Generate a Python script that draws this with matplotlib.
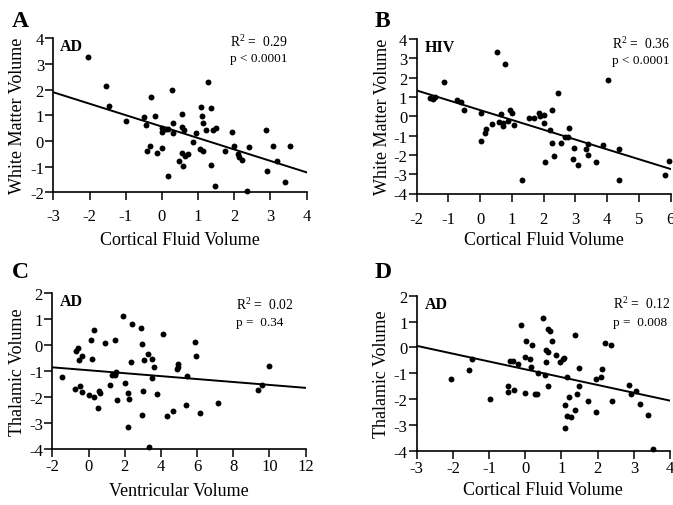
import matplotlib
matplotlib.use("Agg")
import matplotlib.pyplot as plt
import numpy as np

plt.rcParams['font.family'] = ['Liberation Serif', 'DejaVu Serif']
plt.rcParams['mathtext.fontset'] = 'custom'
plt.rcParams['mathtext.rm'] = 'Liberation Serif'
plt.rcParams['mathtext.default'] = 'regular'
plt.rcParams['axes.unicode_minus'] = False

# ---------------- data ----------------
a_x = [-2.03, -1.55, -1.46, -0.98, -0.49, -0.45, -0.42, -0.32, -0.31, -0.20, -0.13, 0.01, 0.01, 0.01,
       0.10, 0.18, 0.18, 0.27, 0.31, 0.32, 0.48, 0.55, 0.55, 0.55, 0.61, 0.59, 0.65, 0.72, 0.85, 0.94,
       1.05, 1.08, 1.11, 1.13, 1.13, 1.21, 1.26, 1.36, 1.37, 1.42, 1.48, 1.50, 1.74, 1.94, 2.00, 2.10,
       2.12, 2.20, 2.40, 2.35, 2.87, 2.90, 3.08, 3.17, 3.40, 3.54]
a_y = [3.29, 2.13, 1.35, 0.77, 0.92, 0.62, -0.39, -0.19, 1.71, 0.96, -0.48, -0.27, 0.36, 0.49,
       0.48, 0.47, -1.35, 1.99, 0.70, 0.30, -0.78, 1.05, 0.56, -0.48, 0.43, -0.96, -0.57, -0.52, -0.05, 0.30,
       -0.31, 1.31, 0.96, 0.71, -0.38, 0.42, 2.30, 1.30, -0.92, 0.43, -1.74, 0.51, -0.40, 0.36, -0.18, -0.49,
       -0.61, -0.75, -0.23, -1.96, 0.42, -1.16, -0.19, -0.79, -1.60, -0.19]

b_x = [-1.58, -1.47, -1.41, -1.12, -0.72, -0.60, -0.51, 0.03, 0.02, 0.19, 0.15, 0.38, 0.53, 0.59,
       0.65, 0.71, 0.73, 0.79, 0.87, 0.95, 1.02, 1.07, 1.32, 1.55, 1.71, 1.85, 1.88, 2.00, 2.02, 2.04,
       2.19, 2.26, 2.25, 2.34, 2.44, 2.55, 2.67, 2.76, 2.79, 2.91, 2.97, 3.09, 3.35, 3.39, 3.41, 3.65,
       3.87, 4.03, 4.36, 4.37, 5.82, 5.96]
b_y = [0.94, 0.91, 0.98, 1.77, 0.82, 0.72, 0.34, 0.19, -1.27, -0.67, -0.88, -0.39, 3.31, -0.29,
       0.14, -0.51, -0.36, 2.68, -0.26, 0.33, 0.19, -0.46, -3.30, -0.09, -0.09, 0.15, 0.02, 0.09, -0.33, -2.39,
       -0.69, 0.31, -1.37, -2.08, 1.22, -1.39, -1.08, -1.10, -0.62, -2.20, -1.63, -2.54, -1.68, -2.01, -1.42, -2.39,
       -1.49, 1.89, -1.70, -3.28, -3.04, -2.33]

c_x = [-1.48, -0.75, -0.69, -0.56, -0.54, -0.45, -0.34, -0.38, 0.01, 0.12, 0.21, 0.30, 0.30, 0.52,
       0.56, 0.63, 0.93, 1.19, 1.30, 1.44, 1.46, 1.50, 1.59, 1.92, 2.02, 2.20, 2.22, 2.20, 2.35, 2.42,
       2.88, 2.94, 2.97, 2.99, 3.05, 3.30, 3.36, 3.51, 3.53, 3.64, 3.77, 4.13, 4.35, 4.67, 4.91, 4.96,
       4.96, 5.46, 5.37, 5.87, 5.94, 6.16, 7.15, 9.35, 9.59, 10.0]
c_y = [-1.23, -1.68, -0.21, -0.12, -0.56, -1.55, -0.42, -1.81, -1.91, 0.21, -0.53, -1.97, 0.59, -2.42,
       -1.76, -1.83, 0.08, -1.53, -1.14, 0.22, -1.14, -1.04, -2.09, 1.12, -1.46, -1.82, -2.08, -3.13, -0.63, 0.83,
       0.67, -2.68, 0.06, -1.77, -0.56, -0.33, -3.90, -0.51, -1.27, -0.82, -1.86, 0.44, -2.73, -2.54, -0.90, -0.72,
       -0.85, -1.19, -2.28, 0.12, -0.42, -2.62, -2.22, -1.73, -1.54, -0.78]

d_x = [-2.04, -1.55, -1.46, -0.98, -0.49, -0.49, -0.42, -0.33, -0.32, -0.20, -0.12, -0.01, 0.01, 0.00,
       0.12, 0.19, 0.17, 0.27, 0.32, 0.34, 0.49, 0.55, 0.56, 0.56, 0.62, 0.62, 0.64, 0.69, 0.74, 0.84,
       0.95, 1.03, 1.06, 1.09, 1.11, 1.14, 1.14, 1.22, 1.27, 1.37, 1.37, 1.43, 1.48, 1.49, 1.73, 1.95,
       1.96, 2.08, 2.12, 2.20, 2.38, 2.41, 2.88, 2.91, 3.06, 3.17, 3.40, 3.54]
d_y = [-1.21, -0.86, -0.46, -1.99, -1.51, -1.72, -0.52, -0.53, -1.66, -0.66, 0.85, -0.37, 0.23, -1.77,
       -0.46, 0.09, -0.76, -1.79, -1.79, -0.99, 1.14, -1.08, -0.09, -0.58, 0.70, -1.48, -0.19, 0.63, 0.23, -0.30,
       -0.58, -0.45, -0.41, -3.14, -2.25, -1.14, -2.66, -1.92, -2.71, 0.46, -2.43, -1.82, -0.79, -1.51, -2.08, -1.21,
       -2.52, -1.15, -0.84, 0.15, 0.09, -2.06, -1.46, -1.82, -1.69, -2.21, -2.61, -3.92]

panel_letters = ["A", "B", "C", "D"]
groups = ["AD", "HIV", "AD", "AD"]
r2_text = ["0.29", "0.36", "0.02", "0.12"]
p_text = ["< 0.0001", "< 0.0001", "=  0.34", "=  0.008"]
x_labels = ["Cortical Fluid Volume", "Cortical Fluid Volume", "Ventricular Volume", "Cortical Fluid Volume"]
y_labels = ["White Matter Volume", "White Matter Volume", "Thalamic Volume", "Thalamic Volume"]
x_limits = [(-3, 4), (-2, 6), (-2, 12), (-3, 4)]
y_limits = [(-2, 4), (-4, 4), (-4, 2), (-4, 2)]
x_steps = [1, 1, 2, 1]
fit_slope = [-0.446, -0.509, -0.0564, -0.303]
fit_intercept = [0.56, 0.32, -0.96, -0.85]

xs = [a_x, b_x, c_x, d_x]
ys = [a_y, b_y, c_y, d_y]

# ---------------- layout ----------------
fig = plt.figure(figsize=(6.73, 5.06), dpi=100)
W, H = 673, 506
# axes boxes in pixels: left, right, top, bottom
boxes = [(53.3, 306.7, 39.3, 193.3),
         (416.5, 670.7, 40.0, 194.5),
         (52.3, 305.7, 294.3, 450.3),
         (416.7, 670.0, 296.7, 451.7)]
letter_pos = [(12, 26.7), (375, 26.7), (12, 278.3), (375, 278.3)]
group_x = [0.027, 0.034, 0.03, 0.034]
r2_pos = [(0.697, 0.952, 0.851), (0.771, 0.94, 0.845), (0.724, 0.90, 0.797), (0.776, 0.919, 0.811)]
xlabel_y = [-0.305, -0.30, -0.262, -0.252]
ylabel_x = [-0.143, -0.135, -0.139, -0.137]
xpad = [5.5, 7.0, 0.8, 1.2]

for i in range(4):
    l, r, t, b = boxes[i]
    ax = fig.add_axes([l / W, 1 - b / H, (r - l) / W, (b - t) / H])
    x0, x1 = x_limits[i]
    y0, y1 = y_limits[i]
    ax.set_xlim(x0, x1)
    ax.set_ylim(y0, y1)
    ax.scatter(xs[i], ys[i], s=18, color='black', zorder=3, clip_on=False, linewidths=0)
    xx = np.array([x0, x1])
    ax.plot(xx, fit_slope[i] * xx + fit_intercept[i], color='black', lw=1.4)
    ax.set_xticks(np.arange(x0, x1 + 0.01, x_steps[i]))
    ax.set_yticks(np.arange(y0, y1 + 0.01, 1))
    ax.spines['top'].set_visible(False)
    ax.spines['right'].set_visible(False)
    for s in ('left', 'bottom'):
        ax.spines[s].set_linewidth(1.2)
    ax.tick_params(direction='out', length=5.5, width=1.1, labelsize=12, color='black')
    ax.tick_params(axis='y', pad=1.2)
    ax.tick_params(axis='x', pad=xpad[i])
    ax.set_xlabel(x_labels[i], fontsize=13, va='center')
    ax.xaxis.set_label_coords(0.5, xlabel_y[i])
    ax.set_ylabel(y_labels[i], fontsize=13, va='center')
    ax.yaxis.set_label_coords(ylabel_x[i], 0.5)
    ax.text(group_x[i], 1.0, groups[i], transform=ax.transAxes, fontsize=11.5,
            fontweight='bold', va='top', ha='left')
    rx, ry1, ry2 = r2_pos[i]
    ax.text(rx, ry1, "R$^{2}$ =  " + r2_text[i], transform=ax.transAxes, fontsize=9.8,
            va='baseline', ha='left')
    ax.text(rx, ry2, "p " + p_text[i], transform=ax.transAxes, fontsize=9.5,
            va='baseline', ha='left')
    lx, ly = letter_pos[i]
    fig.text(lx / W, 1 - ly / H, panel_letters[i], fontsize=17, fontweight='bold',
             va='baseline', ha='left')

fig.savefig("out.png", dpi=100)
